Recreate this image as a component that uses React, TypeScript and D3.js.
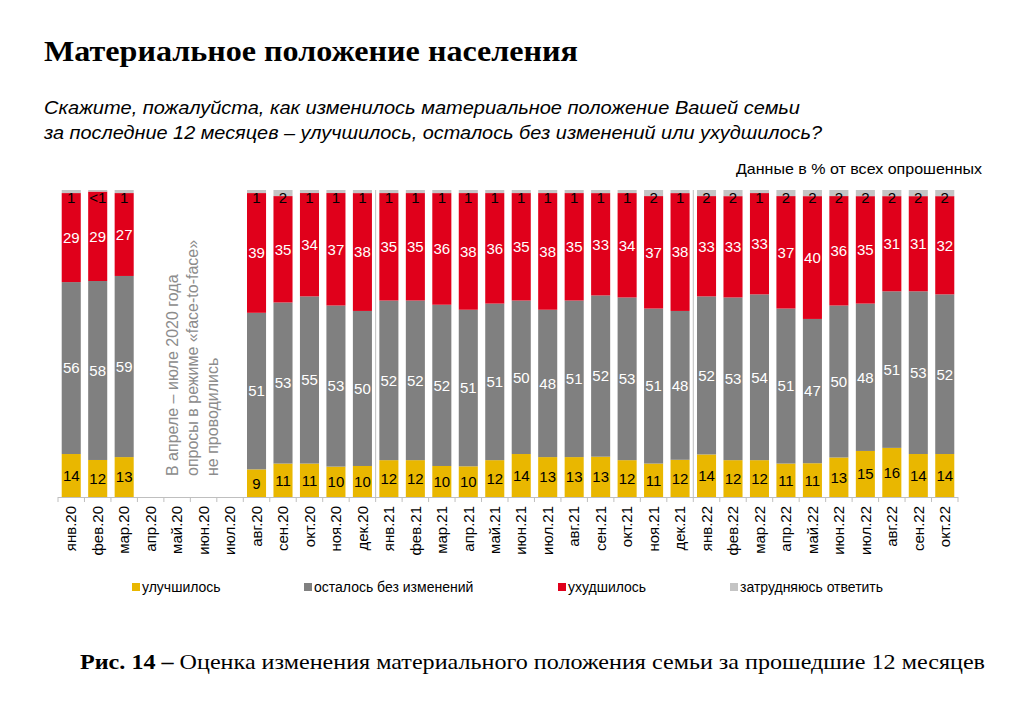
import React from "react";
import * as d3 from "d3";

const months = [
  "янв.20","фев.20","мар.20","апр.20","май.20","июн.20","июл.20","авг.20","сен.20","окт.20","ноя.20","дек.20",
  "янв.21","фев.21","мар.21","апр.21","май.21","июн.21","июл.21","авг.21","сен.21","окт.21","ноя.21","дек.21",
  "янв.22","фев.22","мар.22","апр.22","май.22","июн.22","июл.22","авг.22","сен.22","окт.22",
];
const improved: (number | null)[] = [14,12,13,null,null,null,null,9,11,11,10,10,12,12,10,10,12,14,13,13,13,12,11,12,14,12,12,11,11,13,15,16,14,14];
const same: (number | null)[] = [56,58,59,null,null,null,null,51,53,55,53,50,52,52,52,51,51,50,48,51,52,53,51,48,52,53,54,51,47,50,48,51,53,52];
const worse: (number | null)[] = [29,29,27,null,null,null,null,39,35,34,37,38,35,35,36,38,36,35,38,35,33,34,37,38,33,33,33,37,40,36,35,31,31,32];
const hard: (number | null)[] = [1,0.5,1,null,null,null,null,1,2,1,1,1,1,1,1,1,1,1,1,1,1,1,2,1,2,2,1,2,2,2,2,2,2,2];
const hardLabels: (string | null)[] = ["1","<1","1",null,null,null,null,"1","2","1","1","1","1","1","1","1","1","1","1","1","1","1","2","1","2","2","1","2","2","2","2","2","2","2"];
const seriesNames = ["улучшилось", "осталось без изменений", "ухудшилось", "затрудняюсь ответить"];
const seriesColors = ["#E9B700", "#808080", "#E0001B", "#C4C4C4"];
const labelColors = ["#000", "#fff", "#fff", "#000"];
const yearBreaks = ["янв.21", "янв.22"];

export default function App() {
  const left = 58, right = 958, top = 190, bottom = 497;
  const x = d3.scaleBand<string>().domain(months).range([left, right]).paddingInner(0.28).paddingOuter(0.14);
  const y = d3.scaleLinear().domain([0, 100]).range([bottom, top]);
  const step = x.step();
  const series = [improved, same, worse, hard];

  const bars: JSX.Element[] = [];
  const labels: JSX.Element[] = [];
  months.forEach((m, i) => {
    const total = d3.sum(series, (s) => s[i] ?? 0);
    if (!total) return;
    let acc = 0;
    series.forEach((s, k) => {
      const v = s[i];
      if (v == null) return;
      const y0 = y((acc / total) * 100);
      const y1 = y(((acc + v) / total) * 100);
      bars.push(
        <rect key={`b${i}-${k}`} x={x(m)} y={y1} width={x.bandwidth()} height={Math.max(0, y0 - y1)} fill={seriesColors[k]} />
      );
      const cx = (x(m) as number) + x.bandwidth() / 2;
      const text = k === 3 ? hardLabels[i] : String(v);
      const cy = k === 3 ? y(100) + 8 : (y0 + y1) / 2;
      labels.push(
        <text key={`l${i}-${k}`} x={cx} y={cy} dy="0.36em" textAnchor="middle" fontSize={15} fill={labelColors[k]}
          fontFamily="'Liberation Sans', Arial, sans-serif">{text}</text>
      );
      acc += v;
    });
  });

  const legendX = [132, 304, 558, 730];

  return (
    <svg width={1011} height={707} style={{ position: "absolute", left: 0, top: 0, background: "#fff" }}>
      <text x={44} y={61} fontFamily="'Liberation Serif', 'Times New Roman', serif" fontWeight="bold" fontSize={30}
        textLength={534} lengthAdjust="spacingAndGlyphs" fill="#000">
        Материальное положение населения
      </text>
      <g fontFamily="'Liberation Sans', Arial, sans-serif" fontStyle="italic" fontSize={19} fill="#000">
        <text x={44} y={114} textLength={756} lengthAdjust="spacingAndGlyphs">Скажите, пожалуйста, как изменилось материальное положение Вашей семьи</text>
        <text x={44} y={139} textLength={778} lengthAdjust="spacingAndGlyphs">за последние 12 месяцев – улучшилось, осталось без изменений или ухудшилось?</text>
      </g>
      <text x={736} y={174} fontFamily="'Liberation Sans', Arial, sans-serif" fontSize={15}
        textLength={246} lengthAdjust="spacingAndGlyphs" fill="#000">
        Данные в % от всех опрошенных
      </text>

      {yearBreaks.map((m) => {
        const xx = (x(m) as number) - (step - x.bandwidth()) / 2;
        return <line key={m} x1={xx} x2={xx} y1={top} y2={bottom} stroke="#BFBFBF" strokeWidth={1} />;
      })}
      {bars}
      {labels}

      <line x1={left} x2={right} y1={bottom + 0.5} y2={bottom + 0.5} stroke="#BFBFBF" />
      {d3.range(months.length + 1).map((i) => {
        const xx = left + x.step() * x.paddingOuter() - (step - x.bandwidth()) / 2 + i * step;
        return <line key={`t${i}`} x1={xx} x2={xx} y1={bottom} y2={bottom + 5} stroke="#BFBFBF" />;
      })}
      {months.map((m) => {
        const cx = (x(m) as number) + x.bandwidth() / 2;
        return (
          <text key={`x${m}`} transform={`translate(${cx},${506}) rotate(-90)`} textAnchor="end" dy="0.35em"
            fontFamily="'Liberation Sans', Arial, sans-serif" fontSize={15} fill="#000">{m}</text>
        );
      })}

      <g fontFamily="'Liberation Sans', Arial, sans-serif" fontSize={16} fill="#8C8C8C">
        <text transform="translate(178,476) rotate(-90)">В апреле – июле 2020 года</text>
        <text transform="translate(198,476) rotate(-90)">опросы в режиме «face-to-face»</text>
        <text transform="translate(218,476) rotate(-90)">не проводились</text>
      </g>

      {seriesNames.map((n, k) => (
        <g key={n}>
          <rect x={legendX[k]} y={583} width={8} height={8} fill={seriesColors[k]} />
          <text x={legendX[k] + 10} y={592} fontFamily="'Liberation Sans', Arial, sans-serif" fontSize={14} fill="#000">{n}</text>
        </g>
      ))}

      <text x={80} y={669} fontFamily="'Liberation Serif', 'Times New Roman', serif" fontSize={22} fill="#000"
        textLength={905} lengthAdjust="spacingAndGlyphs">
        <tspan fontWeight="bold">Рис. 14 –</tspan>
        <tspan> Оценка изменения материального положения семьи за прошедшие 12 месяцев</tspan>
      </text>
    </svg>
  );
}
